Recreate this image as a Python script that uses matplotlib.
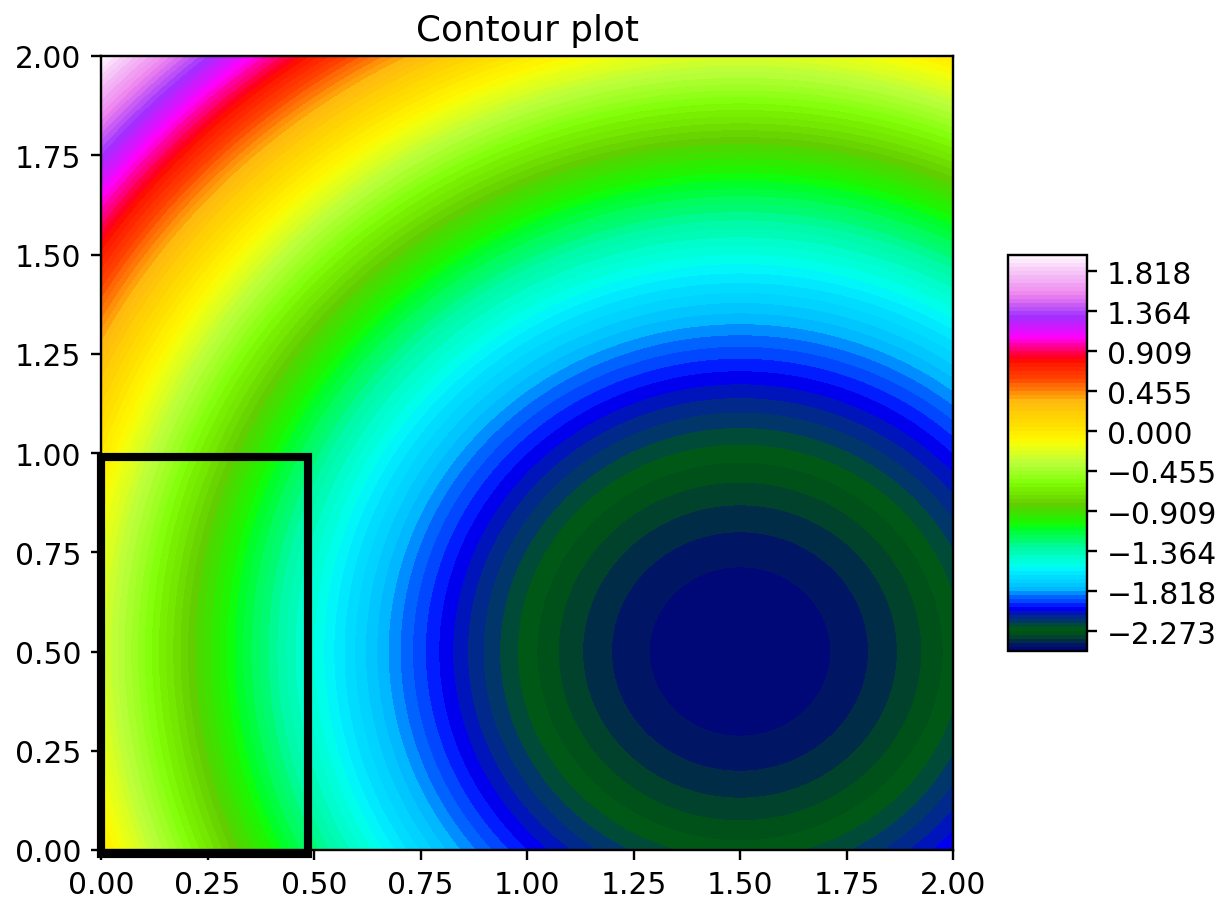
import numpy as np
import matplotlib
matplotlib.use('Agg')
import matplotlib.pyplot as plt
from matplotlib.patches import Rectangle

# field: squared distance from a centre, shifted
x_range = [0.0, 2.0]
y_range = [0.0, 2.0]
centre = [1.5, 0.5]
offset = -2.5
n_grid = 400
n_levels = 100

# highlighted box (data coords)
box_origin = [0.0, -0.01]
box_width = 0.485
box_height = 1.0

x = np.linspace(x_range[0], x_range[1], n_grid)
y = np.linspace(y_range[0], y_range[1], n_grid)
X, Y = np.meshgrid(x, y)
Z = (X - centre[0]) ** 2 + (Y - centre[1]) ** 2 + offset

levels = np.linspace(Z.min(), Z.max(), n_levels)

scale = 1.13
plt.rcParams.update({
    'font.size': 10 * scale,
    'xtick.major.size': 3.5 * scale,
    'ytick.major.size': 3.5 * scale,
    'xtick.major.width': 0.8 * scale,
    'ytick.major.width': 0.8 * scale,
    'axes.linewidth': 0.8 * scale,
})

dpi = 190
fig = plt.figure(figsize=(1223 / dpi, 900 / dpi), dpi=dpi)
ax = fig.add_axes([101 / 1223, 1 - 851 / 900, 852 / 1223, 794 / 900])
cs = ax.contourf(X, Y, Z, levels=levels, cmap='gist_ncar')
ax.set_title('Contour plot', fontsize=12 * scale)
ax.set_xlim(x_range)
ax.set_ylim(y_range)

ax.add_patch(Rectangle(box_origin, box_width, box_height, fill=False,
                       edgecolor='black', linewidth=3.1, clip_on=False))

cax = fig.add_axes([1008 / 1223, 1 - 652 / 900, 79 / 1223, 396 / 900])
fig.colorbar(cs, cax=cax)

fig.savefig('out.png', dpi=dpi)
